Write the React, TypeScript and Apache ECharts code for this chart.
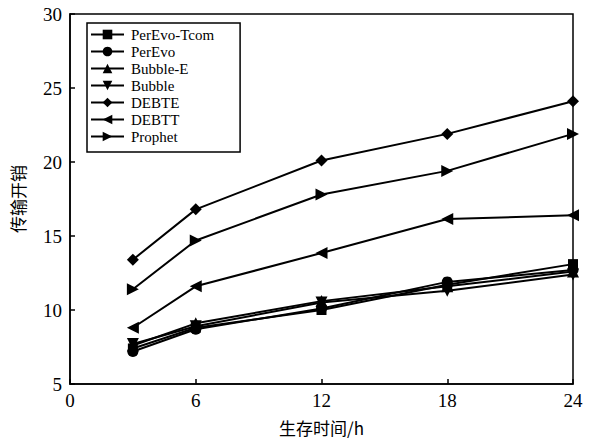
import React, { useEffect, useRef } from "react";
import * as echarts from "echarts";

const xValues = [3, 6, 12, 18, 24];
const seriesNames = ["PerEvo-Tcom", "PerEvo", "Bubble-E", "Bubble", "DEBTE", "DEBTT", "Prophet"];
const perEvoTcom = [7.4, 8.8, 10.0, 11.7, 13.1];
const perEvo = [7.2, 8.7, 10.1, 11.9, 12.7];
const bubbleE = [7.6, 9.1, 10.6, 11.6, 12.6];
const bubble = [7.7, 8.9, 10.5, 11.3, 12.4];
const debte = [13.4, 16.8, 20.1, 21.9, 24.1];
const debtt = [8.8, 11.6, 13.85, 16.15, 16.4];
const prophet = [11.4, 14.7, 17.8, 19.4, 21.9];
const xTicks = [0, 6, 12, 18, 24];
const yTicks = [5, 10, 15, 20, 25, 30];

const allData = [perEvoTcom, perEvo, bubbleE, bubble, debte, debtt, prophet];
const symbols = ["rect", "circle", "triangle", "triangle", "diamond", "triangle", "triangle"];
const rotations = [0, 0, 0, 180, 0, 90, -90];
const sizes = [10, 11, 12, 12, 12, 12, 12];

export default function App() {
  const ref = useRef<HTMLDivElement>(null);
  useEffect(() => {
    const chart = echarts.init(ref.current!, null, { renderer: "svg" });
    const serif = "'Liberation Serif', 'Times New Roman', serif";
    const cjk = "'Noto Sans CJK SC', sans-serif";
    chart.setOption({
      animation: false,
      backgroundColor: "#fff",
      grid: { left: 70, right: 19, top: 14, bottom: 59, show: true, borderColor: "#000", borderWidth: 1.5 },
      legend: {
        orient: "vertical",
        left: 87,
        top: 23,
        itemGap: 2,
        itemWidth: 33,
        itemHeight: 12,
        padding: [4, 26, 8, 3],
        borderColor: "#000",
        borderWidth: 1.5,
        data: seriesNames,
        textStyle: { fontFamily: serif, fontSize: 15, color: "#000", padding: [0, 0, 0, 2] },
      },
      xAxis: {
        type: "value",
        min: 0,
        max: 24,
        interval: 6,
        axisLine: { lineStyle: { color: "#000", width: 1.5 } },
        axisTick: { inside: true, length: 5, lineStyle: { color: "#000", width: 1.5 } },
        splitLine: { show: false },
        axisLabel: { fontFamily: serif, fontSize: 19, color: "#000", margin: 7, customValues: xTicks },
        name: "生存时间/h",
        nameLocation: "middle",
        nameGap: 35,
        nameTextStyle: { fontFamily: cjk, fontSize: 17, color: "#000" },
      },
      yAxis: {
        type: "value",
        min: 5,
        max: 30,
        interval: 5,
        axisLine: { lineStyle: { color: "#000", width: 1.5 } },
        axisTick: { inside: true, length: 5, lineStyle: { color: "#000", width: 1.5 } },
        splitLine: { show: false },
        axisLabel: { fontFamily: serif, fontSize: 19, color: "#000", margin: 8, customValues: yTicks },
        name: "传输开销",
        nameLocation: "middle",
        nameGap: 44,
        nameRotate: 90,
        nameTextStyle: { fontFamily: cjk, fontSize: 17, color: "#000" },
      },
      series: seriesNames.map((name, i) => ({
        name,
        type: "line",
        data: xValues.map((x, j) => [x, allData[i][j]]),
        symbol: symbols[i],
        symbolRotate: rotations[i],
        symbolSize: sizes[i],
        showSymbol: true,
        lineStyle: { color: "#000", width: 2 },
        itemStyle: { color: "#000" },
        z: 3,
      })),
    });
    return () => chart.dispose();
  }, []);
  return <div ref={ref} style={{ width: 592, height: 443, position: "absolute", left: 0, top: 0 }} />;
}
